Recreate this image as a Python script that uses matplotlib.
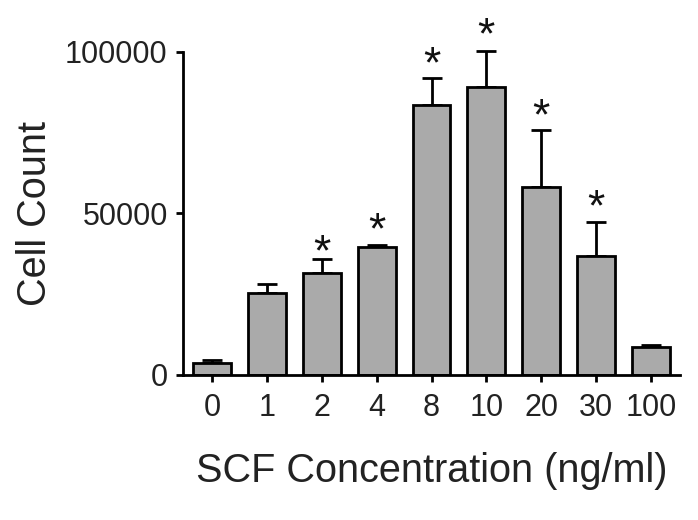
import matplotlib
matplotlib.use("Agg")
import matplotlib.pyplot as plt
import numpy as np

plt.rcParams['font.family'] = ['Liberation Sans', 'DejaVu Sans']

categories = ["0", "1", "2", "4", "8", "10", "20", "30", "100"]
means = [3600, 25300, 31400, 39700, 83500, 89200, 58300, 36800, 8600]
errors = [1000, 2750, 4400, 500, 8250, 11000, 17500, 10400, 700]
star_idx = [2, 3, 4, 5, 6, 7]
star_y = [41800, 48600, 99900, 108900, 84100, 55700]
yticks = [0, 50000, 100000]
ytick_labels = ["0", "50000", "100000"]

fig = plt.figure(figsize=(6.98, 5.2), dpi=100)
ax = fig.add_axes([183/698, 1-375/520, (680-183)/698, (375-51.7)/520])

x = np.arange(len(categories))
lw = 2.0
ax.errorbar(x, means, yerr=[np.zeros(len(errors)), errors], fmt='none',
            ecolor='black', elinewidth=lw, capsize=7.5, capthick=lw,
            zorder=1, clip_on=False)
ax.bar(x, means, width=0.69, color='#aaaaaa', edgecolor='black',
       linewidth=lw, zorder=2)

fs_star = 32
for i, ys in zip(star_idx, star_y):
    ax.annotate('*', xy=(x[i], ys), xytext=(0, -0.58*fs_star),
                textcoords='offset points', ha='center', va='baseline',
                fontsize=fs_star, annotation_clip=False, color='#111111')

ax.set_xlim(-0.53, 8.53)
ax.set_ylim(0, 100000)
ax.set_xticks(x)
ax.set_xticklabels(categories)
ax.set_yticks(yticks)
ax.set_yticklabels(ytick_labels)

for s in ['top', 'right']:
    ax.spines[s].set_visible(False)
for s in ['left', 'bottom']:
    ax.spines[s].set_linewidth(lw)

ax.tick_params(axis='both', direction='out', width=lw, length=5, labelsize=22,
               labelcolor='#222222')
ax.tick_params(axis='x', pad=8)
ax.tick_params(axis='y', pad=6)

ax.set_xlabel("SCF Concentration (ng/ml)", fontsize=28.5, labelpad=21, color='#222222')
ax.set_ylabel("Cell Count", fontsize=28.5, labelpad=8, color='#222222')

fig.savefig("out.png", dpi=100)
